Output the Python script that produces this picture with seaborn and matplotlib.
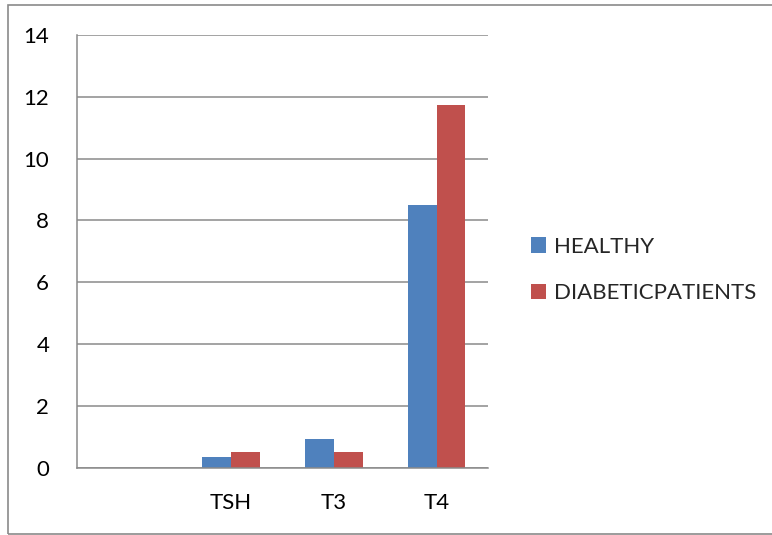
import matplotlib
matplotlib.use("Agg")
import matplotlib.pyplot as plt
from matplotlib.patches import Rectangle, Patch
import seaborn as sns
import pandas as pd

categories = ["", "TSH", "T3", "T4"]
healthy = [0.0, 0.34, 0.93, 8.49]
diabetic = [0.0, 0.51, 0.50, 11.75]
series_names = ["HEALTHY", "DIABETICPATIENTS"]
colors = ["#4F81BD", "#C0504D"]
y_ticks = [0, 2, 4, 6, 8, 10, 12, 14]

df = pd.DataFrame({
    "category": categories * 2,
    "value": healthy + diabetic,
    "group": [series_names[0]] * len(categories) + [series_names[1]] * len(categories),
})

sns.set_theme(style="white")
plt.rcParams["font.family"] = ["Lato", "DejaVu Sans"]

fig = plt.figure(figsize=(7.72, 5.35), dpi=100)
ax = fig.add_axes([77 / 772, 1 - 467.7 / 535, (488 - 77) / 772, (467.7 - 35) / 535])

sns.barplot(data=df, x="category", y="value", hue="group", order=categories,
            hue_order=series_names, palette=colors, width=0.56, saturation=1,
            edgecolor="none", linewidth=0, ax=ax, legend=False, zorder=3)

grid_c = "#8a8a8a"
fs = 16
ax.set_xlim(-0.5, len(categories) - 0.5)
ax.set_ylim(0, 14)
ax.set_yticks(y_ticks)
ax.set_yticklabels([str(t) for t in y_ticks], fontsize=fs, color="black")
ax.set_xticks(range(len(categories)))
ax.set_xticklabels(categories, fontsize=fs, color="black")
ax.set_xticks([i - 0.5 for i in range(len(categories) + 1)], minor=True)
ax.tick_params(axis="x", which="major", length=0, pad=18.5)
ax.tick_params(axis="x", which="minor", length=8, width=1.1, color=grid_c, direction="out")
ax.tick_params(axis="y", which="major", length=8, width=1.1, color=grid_c, direction="out", pad=12)
ax.set_xlabel("")
ax.set_ylabel("")
ax.yaxis.grid(True, color=grid_c, linewidth=1.1)
ax.set_axisbelow(True)
for side in ["top", "right"]:
    ax.spines[side].set_visible(False)
for side in ["left", "bottom"]:
    ax.spines[side].set_color(grid_c)
    ax.spines[side].set_linewidth(1.1)
    ax.spines[side].set_zorder(4)

# chart frame
fig.patches.append(Rectangle((8 / 772, 1 / 535), 1.0, 529 / 535, transform=fig.transFigure,
                             fill=False, edgecolor="#8a8a8a", linewidth=1.2))

handles = [Patch(facecolor=c, edgecolor="none") for c in colors]
fig.legend(handles, series_names, loc="center left", bbox_to_anchor=(531 / 772, 1 - 270 / 535),
           frameon=False, fontsize=fs, handlelength=0.68, handleheight=0.68,
           handletextpad=0.36, labelspacing=1.2, borderpad=0, borderaxespad=0)

fig.savefig("out.png", dpi=100)
